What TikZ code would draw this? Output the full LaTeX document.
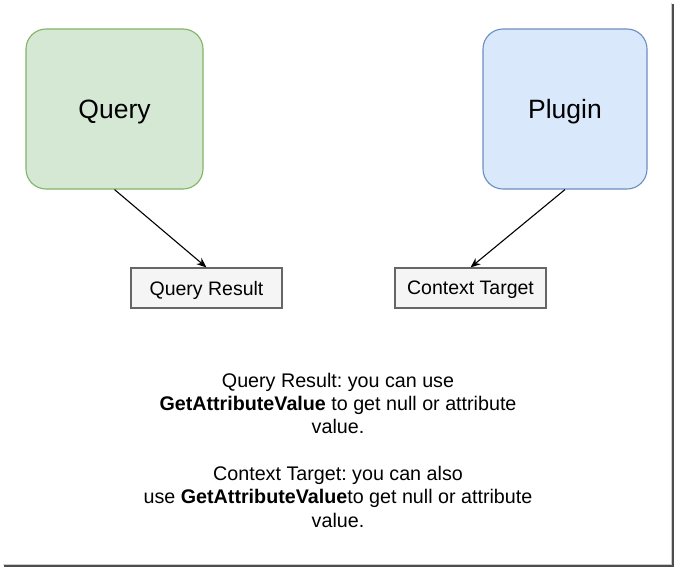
\documentclass[tikz,border=0pt]{standalone}
\usepackage{fontspec}
\setmainfont{Liberation Sans}
\usetikzlibrary{arrows.meta}
\definecolor{qfill}{HTML}{D5E8D4}
\definecolor{qdraw}{HTML}{82B366}
\definecolor{pfill}{HTML}{DAE8FC}
\definecolor{pdraw}{HTML}{6C8EBF}
\definecolor{rfill}{HTML}{F5F5F5}
\definecolor{rdraw}{HTML}{666666}
\tikzset{
  bigbox/.style={draw, line width=1.1pt, rounded corners=20pt, minimum width=177pt, minimum height=160pt, inner sep=0pt, text depth=0pt, font=\fontsize{26.5}{30}\selectfont},
  resbox/.style={draw=rdraw, fill=rfill, line width=1.1pt, minimum width=151pt, minimum height=40pt, inner sep=0pt, text depth=0pt, font=\fontsize{19.5}{23.5}\selectfont},
  conn/.style={line width=1.1pt, -{Stealth[length=10pt,width=8pt]}},
  note/.style={align=center, inner sep=0pt, font=\fontsize{19.7}{23.33}\selectfont}
}
\begin{document}
\frenchspacing
\begin{tikzpicture}[x=1pt,y=-1pt]
\useasboundingbox (0,0) rectangle (676,570);
\fill[white] (0,0) rectangle (676,570);
% shadow frame
\draw[line width=2.5pt, gray!60!black] (673,4) -- (673,566) -- (4,566);
\draw[line width=0.8pt, gray!40] (671,3) -- (671,564.2) -- (3,564.2);
\node[bigbox, fill=qfill, draw=qdraw] (query) at (114.5,109) {Query};
\node[bigbox, fill=pfill, draw=pdraw, minimum width=164pt] (plugin) at (565,109) {Plugin};
\node[resbox] (qres) at (206.5,288) {Query Result};
\node[resbox] (ctx) at (470.5,288) {Context Target};
\draw[conn] (query.south) -- (qres.north);
\draw[conn] (plugin.south) -- (ctx.north);
\node[note] (text) at (338,450) {Query Result: you can use\\
\textbf{GetAttributeValue} to get null or attribute\\
value.\\[23.33pt]
Context Target: you can also\\
use \textbf{GetAttributeValue}to get null or attribute\\
value.};
\end{tikzpicture}
\end{document}
